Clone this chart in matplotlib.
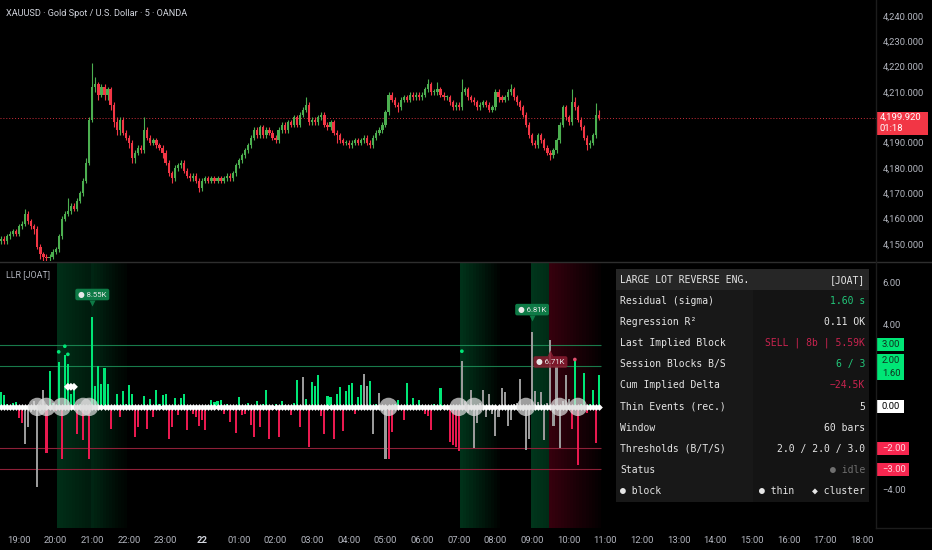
import matplotlib
matplotlib.use("Agg")
import matplotlib.pyplot as plt
from matplotlib.patches import Rectangle
from matplotlib.lines import Line2D
from matplotlib.transforms import blended_transform_factory as blend

plt.rcParams['font.family'] = ['Roboto', 'DejaVu Sans']

# ---------------- data ----------------
TITLE = "XAUUSD · Gold Spot / U.S. Dollar · 5 · OANDA"
PANE_TITLE = "LLR [JOAT]"
OPEN0 = 4151.0
CLOSE = [
    4152, 4151, 4153, 4154, 4155, 4154, 4157, 4158, 4162, 4159,
    4157, 4156, 4149, 4146, 4145, 4144.5, 4145, 4147, 4148, 4153,
    4160, 4162, 4163, 4165, 4164, 4167, 4170, 4175, 4182, 4199,
    4212, 4213, 4209, 4212, 4209, 4211, 4205, 4198, 4195, 4199,
    4194, 4192, 4190, 4184, 4186, 4188, 4187, 4195, 4192, 4190,
    4191, 4189, 4188, 4186, 4182, 4178, 4176, 4180, 4181, 4182,
    4179, 4177, 4176, 4177, 4175, 4172, 4175, 4176, 4175, 4176,
    4175, 4176, 4175, 4176, 4177, 4176, 4178, 4181, 4183, 4185,
    4187, 4189, 4192, 4195, 4193, 4196, 4193, 4195, 4194, 4192,
    4191, 4195, 4197, 4195, 4198, 4197, 4200, 4197, 4201, 4203,
    4205, 4198, 4199, 4198, 4200, 4201, 4197, 4196, 4198, 4194,
    4193, 4191, 4190, 4190, 4189, 4190, 4191, 4190, 4191, 4192,
    4190, 4189, 4192, 4194, 4195, 4197, 4202, 4209, 4207, 4205,
    4204, 4207, 4208, 4207, 4209, 4208, 4209, 4208, 4209, 4211,
    4213, 4210, 4210, 4211, 4209, 4208, 4208, 4206, 4204, 4205,
    4204, 4210, 4211, 4208, 4207, 4206, 4204, 4205, 4206, 4205,
    4203, 4204, 4210, 4208, 4207, 4208, 4210, 4211, 4208, 4206,
    4204, 4201, 4197, 4193, 4190, 4189, 4193, 4191, 4188, 4186,
    4185, 4187, 4191, 4197, 4204, 4200, 4198, 4206, 4204, 4199,
    4196, 4192, 4189, 4190, 4193, 4201, 4199.92,
]
HIGH = [
    4153, 4153, 4154, 4155, 4156, 4156, 4158, 4159, 4164, 4163,
    4160, 4158, 4157, 4150, 4147, 4146, 4146, 4148, 4149, 4154,
    4161, 4163, 4168, 4166, 4166, 4168, 4171, 4176, 4184, 4200,
    4221.5, 4216, 4214, 4213, 4213, 4212, 4212, 4206, 4200, 4200,
    4200, 4195, 4193, 4191, 4187, 4189, 4189, 4200, 4196, 4193,
    4192, 4192, 4190, 4189, 4187, 4183, 4179, 4181, 4182, 4183,
    4183, 4180, 4178, 4178, 4178, 4176, 4176, 4177, 4177, 4177,
    4177, 4177, 4177, 4177, 4178, 4178, 4179, 4182, 4184, 4186,
    4188, 4190, 4193, 4196, 4196, 4197, 4197, 4196, 4196, 4195,
    4193, 4196, 4198, 4198, 4199, 4199, 4201, 4201, 4202, 4204,
    4208, 4206, 4200, 4200, 4201, 4202, 4202, 4198, 4199, 4199,
    4195, 4194, 4192, 4191, 4191, 4191, 4192, 4192, 4192, 4193,
    4193, 4191, 4193, 4195, 4196, 4198, 4203, 4210, 4210, 4208,
    4206, 4208, 4209, 4209, 4210, 4210, 4210, 4210, 4210, 4212,
    4215, 4214, 4211, 4214, 4212, 4210, 4209, 4209, 4207, 4206,
    4206, 4215, 4212, 4212, 4209, 4208, 4207, 4206, 4207, 4207,
    4206, 4205, 4211, 4211, 4209, 4209, 4211, 4213, 4212, 4209,
    4207, 4205, 4202, 4198, 4194, 4191, 4194, 4194, 4192, 4189,
    4187, 4188, 4192, 4198, 4205, 4205, 4201, 4211, 4208, 4205,
    4200, 4197, 4193, 4191, 4194, 4205.5, 4203,
]
LOW = [
    4150, 4150, 4150, 4152, 4153, 4153, 4153, 4156, 4157, 4158,
    4156, 4154, 4148, 4144, 4143, 4143, 4143, 4144, 4146, 4147,
    4152, 4159, 4161, 4162, 4163, 4163, 4166, 4169, 4174, 4181,
    4198, 4210, 4207, 4208, 4207, 4207, 4203, 4196, 4193, 4193,
    4193, 4191, 4188, 4182, 4182, 4185, 4186, 4186, 4191, 4189,
    4189, 4188, 4187, 4184, 4181, 4177, 4174, 4175, 4179, 4180,
    4178, 4176, 4175, 4175, 4174, 4170.5, 4171, 4174, 4174, 4174,
    4174, 4174, 4174, 4174, 4175, 4175, 4175, 4177, 4180, 4182,
    4184, 4186, 4188, 4191, 4192, 4192, 4192, 4192, 4193, 4191,
    4190, 4190, 4194, 4194, 4194, 4196, 4196, 4196, 4196, 4200,
    4202, 4197, 4197, 4197, 4197, 4199, 4196, 4195, 4195, 4193,
    4190, 4190, 4189, 4189, 4188, 4188, 4189, 4189, 4189, 4190,
    4189, 4188, 4188, 4191, 4193, 4194, 4196, 4201, 4206, 4204,
    4202, 4203, 4206, 4206, 4206, 4207, 4207, 4207, 4207, 4208,
    4210, 4209, 4209, 4209, 4208, 4207, 4207, 4205, 4203, 4203,
    4203, 4203, 4209, 4207, 4206, 4205, 4203, 4203, 4204, 4204,
    4202, 4202, 4203, 4206, 4206, 4206, 4207, 4209, 4207, 4205,
    4203, 4200, 4196, 4192, 4189, 4188, 4188, 4190, 4187, 4185,
    4183, 4184, 4186, 4190, 4196, 4199, 4197, 4197, 4203, 4198,
    4195, 4191, 4187, 4188, 4189, 4192, 4199,
]
HIST = [
    0.72, 0.56, 0.12, -0.15, 0.18, 0.24, -0.56, -0.8, -1.77, -0.97,
    -0.25, 0.3, -3.86, -0.2, 0.8, -2.25, 1.72, 0.2, -0.2, 2.17,
    -2.53, 2.5, 2.06, 0.6, 0.8, -1.29, 0.15, -1.6, -0.2, -2.5,
    4.35, 1.0, 1.96, 1.13, 1.88, 1.13, -1.05, -0.12, 0.64, -0.48,
    0.76, 0.15, 1.05, 0.61, -1.45, -0.97, -0.15, 0.53, -1.05, 0.37,
    -0.48, 0.8, 0.12, 0.56, 0.6, -1.53, -0.97, 0.45, -0.4, 0.45,
    0.6, -1.1, 0.1, -0.32, -0.48, -0.92, -0.64, -1.13, 0.1, 0.32,
    0.24, 0.29, 0.32, -0.35, 0.12, -0.72, -0.15, -1.26, 0.48, -0.4,
    -0.32, 0.19, -0.89, -1.45, 0.27, -0.97, 0.12, 0.8, -1.53, -0.15,
    0.13, -1.45, 0.29, 0.1, -0.12, -0.4, 0.19, 1.29, -0.97, 1.45,
    0.4, -1.93, 1.21, 1.0, 1.53, -0.45, -1.29, 0.52, 0.48, -1.53,
    0.64, 0.97, -1.16, 0.76, 1.05, 1.16, -0.32, 0.48, 1.05, 1.58,
    1.0, 1.26, -1.29, 0.15, 0.68, -0.2, -2.5, -2.54, -1.21, 0.12,
    0.32, -0.1, -0.61, 1.16, 0.1, 0.45, -0.12, 0.35, 0.1, -0.35,
    -0.45, -1.13, 0.12, -0.1, 0.92, 0.1, -0.12, -1.69, -1.85, -1.93,
    -2.14, 2.22, 0.3, -0.3, 0.84, -2.0, -0.77, 0.2, 0.8, -0.48,
    0.61, -0.32, -1.42, -0.48, 0.92, 0.72, -0.93, -0.61, 0.15, 0.2,
    1.37, -0.2, -2.09, -1.53, 3.62, 0.76, 0.24, 0.72, -1.61, 0.2,
    3.25, -0.92, 1.93, -2.0, 0.3, 1.53, 0.4, -1.05, 2.25, -2.82,
    0.15, 1.64, -0.3, 0.12, 0.84, -1.74, 1.56,
]
GRAY_IDX = [8, 9, 10, 11, 12, 13, 14, 99, 119, 120, 122, 124, 125, 126] + list(range(151, 187))
CIRCLE_IDX = [12, 15, 20, 27, 29, 127, 150, 155, 172, 183, 189]
DOT_IDX = [19, 21, 22, 151, 188]
DOT_VAL = [2.66, 2.93, 2.54, 2.69, 2.29]
DOT_SIDE = ["buy", "buy", "buy", "buy", "sell"]
CLUSTER_IDX = [22, 23, 24]
CLUSTER_VAL = [0.97, 0.97, 0.97]
TAG_IDX = [30, 174, 180]
TAG_TEXT = ["8.55K", "6.81K", "6.71K"]
TAG_SIDE = ["buy", "buy", "sell"]
# shading bands: start bar, length in bars, side, start alpha, end alpha
BAND_START = [19, 30, 151, 174, 180]
BAND_LEN = [23, 10, 13, 6, 17]
BAND_SIDE = ["buy", "buy", "buy", "buy", "sell"]
BAND_A0 = [0.26, 0.08, 0.28, 0.30, 0.30]
BAND_A1 = [0.03, 0.0, 0.02, 0.25, 0.03]

PRICE_TICKS = [4150, 4160, 4170, 4180, 4190, 4210, 4220, 4230, 4240]
OSC_TICKS = [6.0, 4.0, -4.0]
LEVELS_UP = [3.0, 2.0]
LEVELS_DN = [-2.0, -3.0]
AXIS_TAG_VALS = [[3.00], [1.60, 2.00], [0.00], [-2.00], [-3.00]]
AXIS_TAG_KIND = ["buy", "buy", "zero", "sell", "sell"]
COUNTDOWN = "01:18"

TIME_TICK_IDX = [6, 18, 30, 42, 54, 66, 78, 90, 102, 114, 126, 138,
                 150, 162, 174, 186, 198, 210, 222, 234, 246, 258, 270, 282]
TIME_LABELS = ["19:00", "20:00", "21:00", "22:00", "23:00", "22", "01:00", "02:00",
               "03:00", "04:00", "05:00", "06:00", "07:00", "08:00", "09:00", "10:00",
               "11:00", "12:00", "13:00", "14:00", "15:00", "16:00", "17:00", "18:00"]

TABLE_HEAD = ["LARGE LOT REVERSE ENG.", "[JOAT]"]
TABLE_LABELS = ["Residual (sigma)", "Regression R²", "Last Implied Block",
                "Session Blocks B/S", "Cum Implied Delta", "Thin Events (rec.)",
                "Window", "Thresholds (B/T/S)", "Status"]
TABLE_VALUES = ["1.60 s", "0.11 OK", "SELL | 8b | 5.59K", "6 / 3", "−24.5K", "5",
                "60 bars", "2.0 / 2.0 / 3.0", "● idle"]
TABLE_TONES = ["buy", "plain", "sell", "buy", "sell", "plain", "plain", "plain", "muted"]
TABLE_LEGEND = ["● block", "● thin", "◆ cluster"]

# ---------------- style ----------------
BG = "black"
UP = "#4caf50"
DN = "#f23645"
H_UP = "#00e676"
H_DN = "#e8194f"
H_GRAY = "#9a9a9a"
AXIS_TXT = "#b2b5be"
W, H = 932, 550


def fx(px):
    return px / W


def fy(py):
    return 1 - py / H


fig = plt.figure(figsize=(W / 100, H / 100), dpi=100, facecolor=BG)
PLOT_R = 876
ax1 = fig.add_axes([0, fy(261), fx(PLOT_R), 261 / H])
ax2 = fig.add_axes([0, fy(528), fx(PLOT_R), (528 - 262) / H])

XL = (-0.22, 286.6)
for ax in (ax1, ax2):
    ax.set_facecolor(BG)
    for s in ax.spines.values():
        s.set_visible(False)
    ax.set_xlim(*XL)

# ---------------- price pane ----------------
n = len(CLOSE)
idx = list(range(n))
opens = [OPEN0] + CLOSE[:-1]
cols = [UP if c >= o else DN for o, c in zip(opens, CLOSE)]
bottoms = [min(o, c) for o, c in zip(opens, CLOSE)]
heights = [max(abs(c - o), 0.3) for o, c in zip(opens, CLOSE)]
ax1.vlines(idx, LOW, HIGH, colors=cols, linewidth=0.8, zorder=2)
ax1.bar(idx, heights, bottom=bottoms, width=0.74, color=cols, linewidth=0, zorder=3)
LAST = CLOSE[-1]
ax1.axhline(LAST, color=DN, lw=0.7, ls=(0, (1, 2)), alpha=0.85, zorder=1)
ax1.set_ylim(4143.3, 4246.3)
ax1.yaxis.tick_right()
ax1.set_yticks(PRICE_TICKS)
ax1.set_yticklabels([f"{v:,.3f}" for v in PRICE_TICKS])
ax1.tick_params(axis='y', length=0, pad=4.8, labelsize=6.8, labelcolor=AXIS_TXT)
ax1.set_xticks([])

tb1 = blend(ax1.transAxes, ax1.transData)
ax1.add_patch(Rectangle((876.7 / PLOT_R, LAST - 6.9), 51.3 / PLOT_R, 9.1, transform=tb1,
                        facecolor=DN, edgecolor='none', clip_on=False, zorder=10))
ax1.text(880 / PLOT_R, LAST, f"{LAST:,.3f}", transform=tb1, color='white', fontsize=6.8,
         ha='left', va='center', clip_on=False, zorder=11)
ax1.text(880 / PLOT_R, LAST - 4.5, COUNTDOWN, transform=tb1, color='white', fontsize=6.8,
         ha='left', va='center', clip_on=False, zorder=11)

# ---------------- oscillator pane ----------------
ax2.set_ylim(-5.85, 7.0)
side_col = {"buy": "#00b35a", "sell": "#b3002d"}
for st, ln, sd, a0, a1 in zip(BAND_START, BAND_LEN, BAND_SIDE, BAND_A0, BAND_A1):
    for k in range(ln):
        a = a0 + (a1 - a0) * k / max(ln - 1, 1)
        if a > 0:
            ax2.axvspan(st + k - 0.5, st + k + 0.5, color=side_col[sd], alpha=a, lw=0, zorder=0)

xe = (-0.5, n - 0.5)
ax2.hlines(LEVELS_UP, *xe, color="#1f9a5e", lw=0.8, alpha=0.8, zorder=1)
ax2.hlines(LEVELS_DN, *xe, color="#8e2038", lw=0.8, zorder=1)

gray = set(GRAY_IDX)
hcols = [H_GRAY if i in gray else (H_UP if v >= 0 else H_DN) for i, v in enumerate(HIST)]
ax2.bar(idx, HIST, width=0.68, color=hcols, linewidth=0, zorder=2)

ax2.plot([-0.5] + idx, [0.0] * (n + 1), color='white', lw=2.4, zorder=3)
ax2.plot(idx, [0.0] * n, ls='none', marker='D', ms=3.4, color='white', mec='none', zorder=3)
ax2.scatter(CIRCLE_IDX, [0.0] * len(CIRCLE_IDX), s=175, color='#dcdcdc', alpha=0.72,
            edgecolors='none', zorder=4)
ax2.scatter(DOT_IDX, DOT_VAL, s=7, color=[H_UP if s == "buy" else "#e0506e" for s in DOT_SIDE],
            edgecolors='none', zorder=4)
ax2.scatter(CLUSTER_IDX, CLUSTER_VAL, s=16, marker='D', color='white', edgecolors='none', zorder=5)

for i, t, sd in zip(TAG_IDX, TAG_TEXT, TAG_SIDE):
    v = HIST[i]
    if sd == "buy":
        yc, fc, mk, yp, al = v + 1.08, "#0e7a46", 'v', v + 0.66, 1.0
    else:
        yc, fc, mk, yp, al = v - 1.08, "#8a1c30", '^', v - 0.66, 0.85
    ax2.text(i, yc, "● " + t, ha='center', va='center', fontsize=5.6, color='#e8e8e8', zorder=7,
             bbox=dict(boxstyle='round,pad=0.35,rounding_size=0.25', fc=fc, ec='none', alpha=al))
    ax2.plot([i], [yp], marker=mk, ms=4, color=fc, mec='none', alpha=al, zorder=7)

ax2.yaxis.tick_right()
ax2.set_yticks(OSC_TICKS)
ax2.set_yticklabels([f"{v:.2f}".replace('-', '−') for v in OSC_TICKS])
ax2.tick_params(axis='y', length=0, pad=4.8, labelsize=6.8, labelcolor=AXIS_TXT)

tb2 = blend(ax2.transAxes, ax2.transData)
unit = 13 / 20.7
tag_fc = {"buy": H_UP, "zero": "white", "sell": "#f7264f"}
tag_tc = {"buy": "#10301f", "zero": "black", "sell": "#ffd6de"}
for vals, kind in zip(AXIS_TAG_VALS, AXIS_TAG_KIND):
    base = vals[0]
    ys = [base + unit * j for j in range(len(vals))]
    width = 32 if kind == "sell" else 27
    ax2.add_patch(Rectangle((877 / PLOT_R, ys[0] - unit / 2), width / PLOT_R, unit * len(vals),
                            transform=tb2, facecolor=tag_fc[kind], edgecolor='none',
                            clip_on=False, zorder=10))
    for v, yy in zip(vals, ys):
        ax2.text(882 / PLOT_R, yy, f"{v:.2f}".replace('-', '−'), transform=tb2,
                 color=tag_tc[kind], fontsize=6.8, ha='left', va='center',
                 clip_on=False, zorder=11)

ax2.set_xticks(TIME_TICK_IDX)
ax2.set_xticklabels(TIME_LABELS)
ax2.tick_params(axis='x', length=0, pad=6, labelsize=6.8, labelcolor=AXIS_TXT)
for lab in ax2.get_xticklabels():
    if ":" not in lab.get_text():
        lab.set_fontweight('bold')
        lab.set_color('#d1d4dc')

# ---------------- titles ----------------
fig.text(fx(6), fy(13), TITLE, color='#d1d4dc', fontsize=6.6, ha='left', va='center')
fig.text(fx(6), fy(275), PANE_TITLE, color=AXIS_TXT, fontsize=6.4, ha='left', va='center')

# separators
fig.add_artist(Line2D([0, 1], [fy(261.5)] * 2, color='#2e2e2e', lw=1.0))
fig.add_artist(Line2D([fx(876)] * 2, [fy(0), fy(528)], color='#1c1c1c', lw=1.0))
fig.add_artist(Line2D([fx(876), 1], [fy(528)] * 2, color='#1c1c1c', lw=1.0))

# ---------------- info table ----------------
TX0, TX1, TY0, TY1 = 616, 869, 269, 502
fig.add_artist(Rectangle((fx(TX0), fy(TY1)), fx(753) - fx(TX0), (TY1 - 290) / H,
                         facecolor='#181818', edgecolor='none', zorder=20))
fig.add_artist(Rectangle((fx(753), fy(TY1)), fx(TX1) - fx(753), (TY1 - 290) / H,
                         facecolor='#141414', edgecolor='none', zorder=20))
fig.add_artist(Rectangle((fx(TX0), fy(290)), fx(TX1) - fx(TX0), (290 - TY0) / H,
                         facecolor='#262626', edgecolor='none', zorder=20))
mono = dict(family='DejaVu Sans Mono', fontsize=7, zorder=21, va='center')
tone = {"buy": "#22c77a", "sell": "#c8234f", "plain": "#e6e6e6", "muted": "#6f6f6f"}
fig.text(fx(620), fy(280), TABLE_HEAD[0], color='#e6e6e6', ha='left', **mono)
fig.text(fx(865), fy(280), TABLE_HEAD[1], color='#e6e6e6', ha='right', **mono)
for r, (lab, val, tn) in enumerate(zip(TABLE_LABELS, TABLE_VALUES, TABLE_TONES)):
    yy = 301 + 21.1 * r
    fig.text(fx(620), fy(yy), lab, color='#e6e6e6', ha='left', **mono)
    fig.text(fx(865), fy(yy), val, color=tone[tn], ha='right', **mono)
ly = 301 + 21.1 * len(TABLE_LABELS)
fig.text(fx(620), fy(ly), TABLE_LEGEND[0], color='#e6e6e6', ha='left', **mono)
fig.text(fx(759), fy(ly), TABLE_LEGEND[1], color='#e6e6e6', ha='left', **mono)
fig.text(fx(865), fy(ly), TABLE_LEGEND[2], color='#e6e6e6', ha='right', **mono)

fig.savefig("out.png", dpi=100, facecolor=BG)
